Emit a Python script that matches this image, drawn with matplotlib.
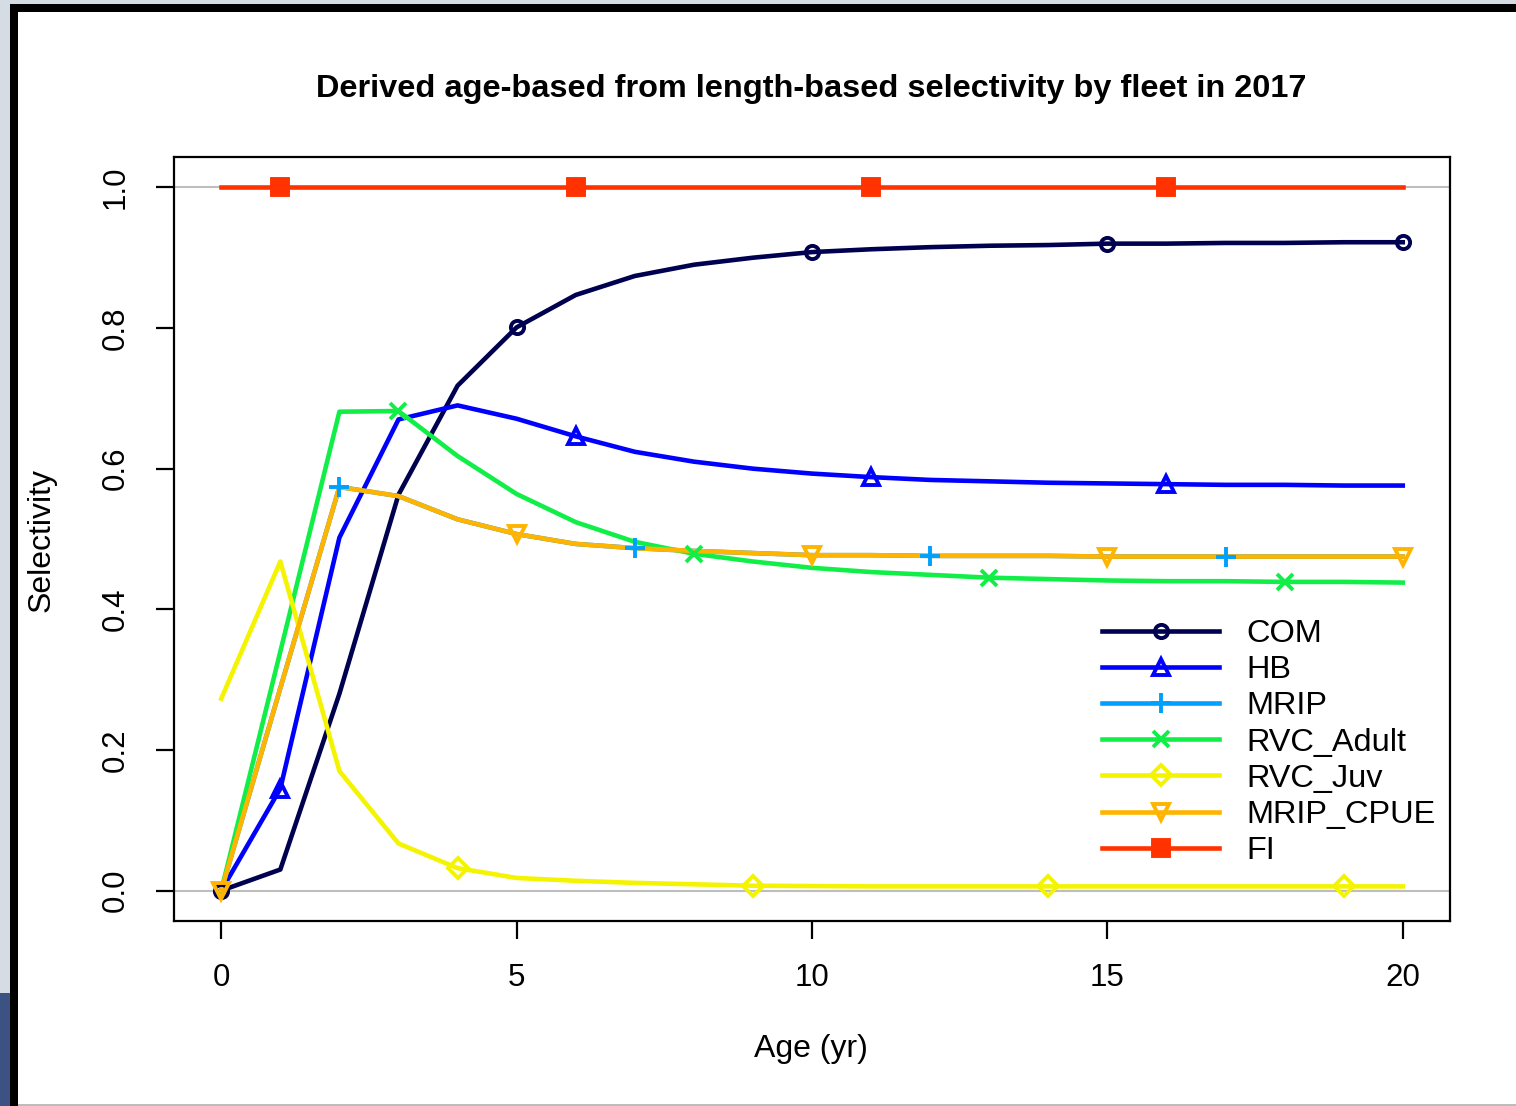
import numpy as np
import matplotlib.pyplot as plt
from matplotlib.patches import Rectangle
from matplotlib.lines import Line2D

plt.rcParams['font.family'] = ['Liberation Sans', 'DejaVu Sans']

W, H = 1516, 1106

ages = list(range(0, 21))

com = [0.0, 0.03, 0.28, 0.563, 0.718, 0.801, 0.847, 0.874, 0.890, 0.900, 0.908,
       0.912, 0.915, 0.917, 0.918, 0.920, 0.920, 0.921, 0.921, 0.922, 0.922]
hb = [0.0, 0.145, 0.502, 0.670, 0.690, 0.671, 0.646, 0.624, 0.610, 0.600, 0.593,
      0.588, 0.584, 0.582, 0.580, 0.579, 0.578, 0.577, 0.577, 0.576, 0.576]
mrip = [0.0, 0.288, 0.574, 0.561, 0.528, 0.507, 0.493, 0.487, 0.483, 0.480, 0.477,
        0.477, 0.476, 0.476, 0.476, 0.475, 0.475, 0.475, 0.475, 0.475, 0.475]
rvc_adult = [0.0, 0.340, 0.681, 0.682, 0.618, 0.564, 0.524, 0.496, 0.479, 0.468, 0.459,
             0.453, 0.449, 0.445, 0.443, 0.441, 0.440, 0.440, 0.439, 0.439, 0.438]
rvc_juv = [0.273, 0.468, 0.170, 0.067, 0.032, 0.018, 0.014, 0.011, 0.009, 0.007, 0.0065,
           0.006, 0.006, 0.006, 0.006, 0.006, 0.006, 0.006, 0.006, 0.006, 0.006]
mrip_cpue = [0.0, 0.288, 0.574, 0.561, 0.528, 0.507, 0.493, 0.487, 0.483, 0.480, 0.477,
             0.477, 0.476, 0.476, 0.476, 0.475, 0.475, 0.475, 0.475, 0.475, 0.475]
fi = [1.0] * 21

fleets = ['COM', 'HB', 'MRIP', 'RVC_Adult', 'RVC_Juv', 'MRIP_CPUE', 'FI']
series = [com, hb, mrip, rvc_adult, rvc_juv, mrip_cpue, fi]
colors = ['#000050', '#0000ff', '#00a0ff', '#12ee48', '#f4f400', '#ffb400', '#ff3200']
markers = ['o', '^', '+', 'x', 'D', 'v', 's']
msizes = [9.5, 12, 15, 12, 10, 12, 11]

fig = plt.figure(figsize=(W / 100, H / 100), dpi=100)
fig.patch.set_facecolor('#d5dce4')


def px_rect(x0, y0, x1, y1, color):
    fig.add_artist(Rectangle((x0 / W, 1 - y1 / H), (x1 - x0) / W, (y1 - y0) / H,
                             transform=fig.transFigure, facecolor=color,
                             edgecolor='none', zorder=-10))


# window frame around the plot
px_rect(0, 993, 10, H, '#3b5283')
px_rect(10, 4, 18, H, 'black')
px_rect(10, 4, W, 12, 'black')
px_rect(18, 12, W, 1104, 'white')
px_rect(18, 1104, W, H, '#bcbcbc')

ax = fig.add_axes([174 / W, 1 - 921 / H, (1450 - 174) / W, (921 - 157) / H])
ax.set_xlim(-0.8, 20.8)
ax.set_ylim(-0.0432, 1.0432)

ax.axhline(0, color='#bebebe', lw=1.5, zorder=1)
ax.axhline(1, color='#bebebe', lw=1.5, zorder=1)

handles = []
for i, (name, vals, c, m, ms) in enumerate(zip(fleets, series, colors, markers, msizes)):
    filled = m in ('s', '+', 'x')
    mk = dict(marker=m, markersize=ms, markeredgewidth=2.8,
              markerfacecolor=c if filled else 'none', markeredgecolor=c)
    # lines first, points in a layer above all lines
    ax.plot(ages, vals, color=c, lw=3.3, zorder=2 + i)
    ax.plot(ages, vals, linestyle='none', markevery=(i % 5, 5), zorder=20 + i, **mk)
    handles.append(Line2D([], [], color=c, lw=3.3, **mk))

for s in ax.spines.values():
    s.set_linewidth(1.6)
    s.set_color('black')

ax.set_xticks([0, 5, 10, 15, 20])
ax.set_yticks([0.0, 0.2, 0.4, 0.6, 0.8, 1.0])
ax.set_yticklabels(['0.0', '0.2', '0.4', '0.6', '0.8', '1.0'])
ax.tick_params(length=13, width=1.6, labelsize=22.5, direction='out')
ax.tick_params(axis='x', pad=17)
ax.tick_params(axis='y', pad=18)
for lab in ax.get_yticklabels():
    lab.set_rotation(90)
    lab.set_va('center')

fig.text(811 / W, 1 - 89 / H, 'Derived age-based from length-based selectivity by fleet in 2017',
         ha='center', va='center', fontsize=23.4, fontweight='bold')
fig.text(811 / W, 1 - 1049 / H, 'Age (yr)', ha='center', va='center', fontsize=23)
fig.text(42 / W, 1 - 540 / H, 'Selectivity', ha='center', va='center',
         fontsize=23, rotation=90)

fig.legend(handles, fleets, loc='upper left', bbox_to_anchor=(1102 / W, 1 - 619 / H),
           frameon=False, fontsize=23.4, handlelength=3.6, handletextpad=0.85,
           labelspacing=0.19, borderpad=0, borderaxespad=0)

fig.savefig('out.png', dpi=100, facecolor=fig.get_facecolor())
